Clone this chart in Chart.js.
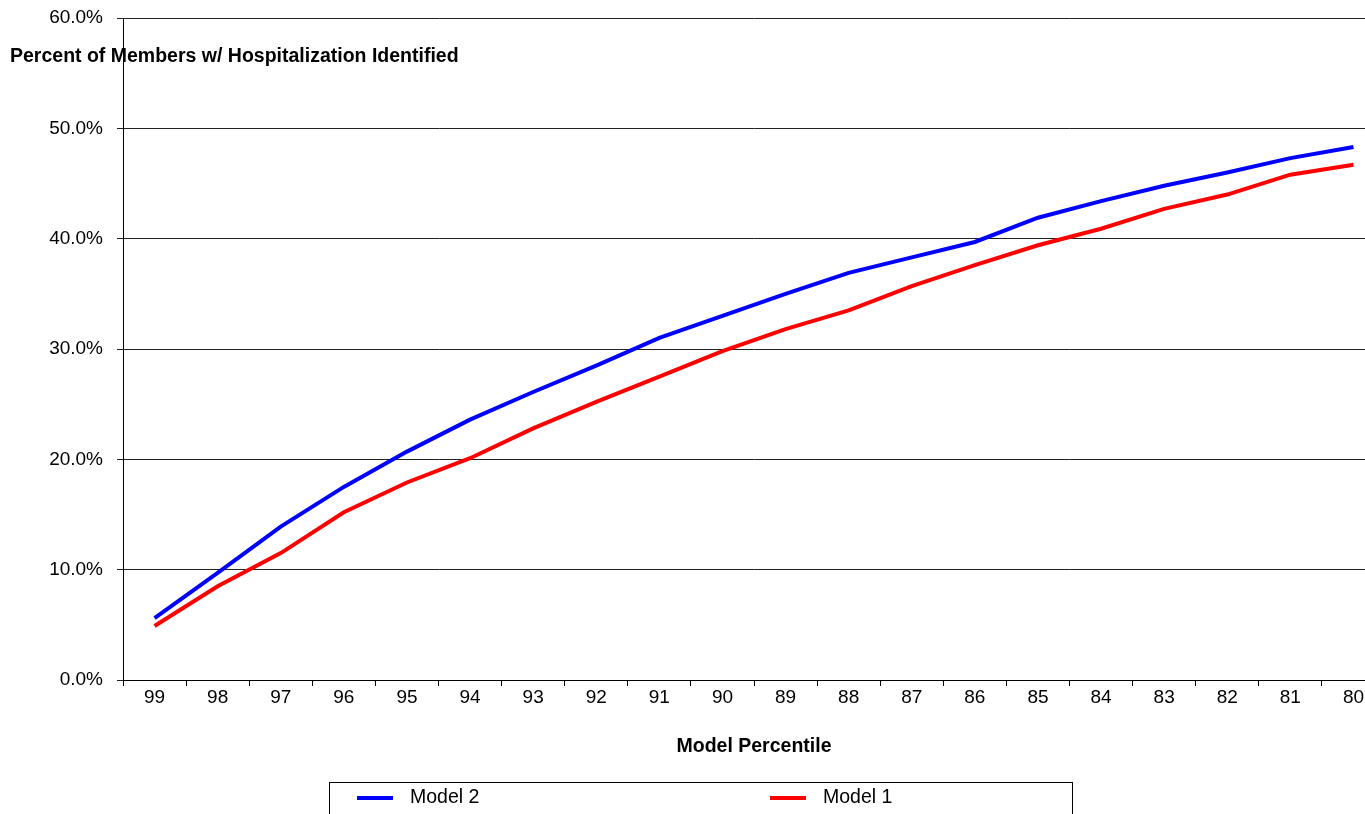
<!DOCTYPE html>
<html>
<head>
<meta charset="utf-8">
<script src="https://cdn.jsdelivr.net/npm/chart.js@4/dist/chart.umd.min.js"></script>
<style>
  html, body { margin: 0; padding: 0; background: #fff; overflow: hidden; }
  #wrap { position: relative; width: 1385px; height: 814px; }
</style>
</head>
<body>
<div id="wrap"><canvas id="c"></canvas></div>
<script>
const categories = ['99','98','97','96','95','94','93','92','91','90','89','88','87','86','85','84','83','82','81','80'];
const model2 = [5.6, 9.7, 13.9, 17.5, 20.7, 23.6, 26.1, 28.5, 31.0, 33.0, 35.0, 36.9, 38.3, 39.7, 41.9, 43.4, 44.8, 46.0, 47.3, 48.3];
const model1 = [4.9, 8.5, 11.5, 15.2, 17.9, 20.1, 22.8, 25.2, 27.5, 29.8, 31.8, 33.5, 35.7, 37.6, 39.4, 40.9, 42.7, 44.0, 45.8, 46.7];
const seriesNames = ['Model 2', 'Model 1'];
const seriesColors = ['#0000FF', '#FF0000'];
const yTitle = 'Percent of Members w/ Hospitalization Identified';
const xTitle = 'Model Percentile';

const FONT = '"Liberation Sans", Arial, Helvetica, sans-serif';

const extras = {
  id: 'extras',
  beforeDraw(chart) {
    const ctx = chart.ctx;
    ctx.save();
    ctx.fillStyle = '#000';
    ctx.font = 'bold 19.5px ' + FONT;
    ctx.textAlign = 'left';
    ctx.textBaseline = 'middle';
    ctx.fillText(yTitle, 10, 57);
    ctx.restore();
  },
  afterDraw(chart) {
    const ctx = chart.ctx;
    ctx.save();
    ctx.strokeStyle = '#000';
    ctx.lineWidth = 1;
    ctx.strokeRect(329.5, 782.5, 743, 60);
    const xs = [357, 770];
    chart.data.datasets.forEach((ds, i) => {
      const x = xs[i];
      const y = 798;
      ctx.strokeStyle = ds.borderColor;
      ctx.lineWidth = 4;
      ctx.beginPath();
      ctx.moveTo(x, y);
      ctx.lineTo(x + 36, y);
      ctx.stroke();
      ctx.fillStyle = '#000';
      ctx.font = '19.5px ' + FONT;
      ctx.textAlign = 'left';
      ctx.textBaseline = 'middle';
      ctx.fillText(ds.label, x + 53, y);
    });
    ctx.restore();
  }
};

new Chart(document.getElementById('c'), {
  type: 'line',
  data: {
    labels: categories,
    datasets: [
      { label: seriesNames[0], data: model2, borderColor: seriesColors[0], backgroundColor: seriesColors[0], borderWidth: 4, pointRadius: 0, tension: 0, fill: false },
      { label: seriesNames[1], data: model1, borderColor: seriesColors[1], backgroundColor: seriesColors[1], borderWidth: 4, pointRadius: 0, tension: 0, fill: false }
    ]
  },
  options: {
    responsive: true,
    maintainAspectRatio: false,
    animation: false,
    layout: { padding: { left: 0, top: 18, right: 0, bottom: 0 } },
    plugins: {
      legend: { display: false },
      tooltip: { enabled: false },
      title: { display: false }
    },
    scales: {
      x: {
        type: 'category',
        offset: true,
        grid: { display: true, drawOnChartArea: false, drawTicks: true, tickLength: 6, color: '#000', offset: true },
        border: { display: true, color: '#000', width: 1 },
        ticks: { color: '#000', font: { family: FONT, size: 19 }, padding: 0, maxRotation: 0, autoSkip: false },
        title: { display: true, text: xTitle, color: '#000', font: { family: FONT, size: 19.5, weight: 'bold' }, padding: { top: 0, bottom: 56 } },
        afterFit(scale) { scale.height = 134; scale.paddingLeft = 0; scale.paddingRight = 0; }
      },
      y: {
        min: 0,
        max: 60,
        ticks: { stepSize: 10, color: '#000', font: { family: FONT, size: 19 }, padding: 14, callback: v => v.toFixed(1) + '%' },
        grid: { color: '#222', lineWidth: 1, drawTicks: true, tickLength: 6 },
        border: { display: true, color: '#000', width: 1 },
        afterFit(scale) { scale.width = 123; scale.paddingTop = 0; scale.paddingBottom = 0; }
      }
    }
  },
  plugins: [extras]
});
</script>
</body>
</html>
